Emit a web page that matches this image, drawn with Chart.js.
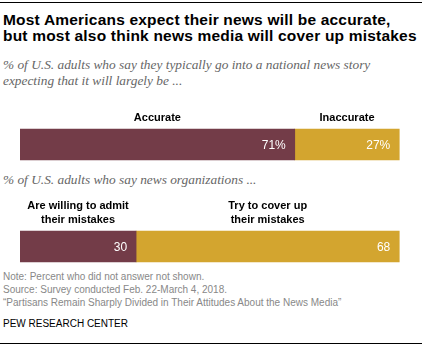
<!DOCTYPE html>
<html>
<head>
<meta charset="utf-8">
<script src="https://cdn.jsdelivr.net/npm/chart.js@4"></script>
<style>
    html, body { margin: 0; padding: 0; background: #fff; }
    #wrap { position: relative; width: 422px; height: 347px; overflow: hidden; font-family: 'Liberation Sans', Arial, sans-serif; }
    .rule { position: absolute; left: 0; width: 422px; height: 1px; background: #000; }
    .t { position: absolute; left: 3px; white-space: nowrap; }
    #title { top: 12px; font-weight: bold; font-size: 15.5px; letter-spacing: 0.2px; line-height: 16px; color: #000; }
    .sub { font-family: 'Liberation Serif', serif; font-style: italic; font-size: 13.35px; line-height: 16px; color: #666; }
    #sub1 { top: 57px; }
    #sub2 { top: 172px; }
    #notes { top: 270px; font-size: 10px; line-height: 13px; color: #888; }
    #pew { top: 318px; font-size: 10px; color: #000; }
    #chart { position: absolute; left: 0; top: 0; }
</style>
</head>
<body>
<div id="wrap">
    <div class="rule" style="top:2px"></div>
    <div class="t" id="title">Most Americans expect their news will be accurate,<br>but most also think news media will cover up mistakes</div>
    <div class="t sub" id="sub1">% of U.S. adults who say they typically go into a national news story<br>expecting that it will largely be ...</div>
    <div class="t sub" id="sub2">% of U.S. adults who say news organizations ...</div>
    <div class="t" id="notes">Note: Percent who did not answer not shown.<br>Source: Survey conducted Feb. 22-March 4, 2018.<br>“Partisans Remain Sharply Divided in Their Attitudes About the News Media”</div>
    <div class="t" id="pew">PEW RESEARCH CENTER</div>
    <div class="rule" style="top:343px"></div>
    <canvas id="chart" width="422" height="347"></canvas>
</div>
<script>
const questions = ['Expect news to be', 'News organizations'];
const firstLabels = [['Accurate'], ['Are willing to admit', 'their mistakes']];
const secondLabels = [['Inaccurate'], ['Try to cover up', 'their mistakes']];
const firstValues = [71, 30];
const secondValues = [27, 68];
const valueSuffix = ['%', ''];

const MAROON = '#733c48';
const GOLD = '#d3a52f';

// headers above each segment, numbers inside at the right end
const segmentLabels = {
    id: 'segmentLabels',
    afterDatasetsDraw(chart) {
        const ctx = chart.ctx;
        const headers = [firstLabels, secondLabels];
        ctx.save();
        chart.data.datasets.forEach((ds, di) => {
            const meta = chart.getDatasetMeta(di);
            meta.data.forEach((bar, i) => {
                const left = Math.min(bar.base, bar.x);
                const right = Math.max(bar.base, bar.x);
                const top = bar.y - bar.height / 2;

                ctx.fillStyle = '#fff';
                ctx.font = '12px "Liberation Sans", Arial, sans-serif';
                ctx.textAlign = 'right';
                ctx.textBaseline = 'middle';
                ctx.fillText(ds.data[i] + valueSuffix[i], right - 9, bar.y + 1);

                const lines = headers[di][i];
                ctx.fillStyle = '#000';
                ctx.font = 'bold 11px "Liberation Sans", Arial, sans-serif';
                ctx.textAlign = 'center';
                ctx.textBaseline = 'alphabetic';
                lines.forEach((line, li) => {
                    const y = top - 8 - (lines.length - 1 - li) * 14;
                    ctx.fillText(line, (left + right) / 2, y);
                });
            });
        });
        ctx.restore();
    },
};

new Chart(document.getElementById('chart'), {
    type: 'bar',
    data: {
        labels: questions,
        datasets: [
            { data: firstValues, backgroundColor: MAROON, barThickness: 31 },
            { data: secondValues, backgroundColor: GOLD, barThickness: 31 },
        ],
    },
    options: {
        indexAxis: 'y',
        responsive: false,
        animation: false,
        layout: { padding: { left: 20, right: 15, top: 93.5, bottom: 49.5 } },
        plugins: { legend: { display: false }, tooltip: { enabled: false } },
        scales: {
            x: { stacked: true, min: 0, max: 100, display: false },
            y: { stacked: true, display: false },
        },
    },
    plugins: [segmentLabels],
});
</script>
</body>
</html>
